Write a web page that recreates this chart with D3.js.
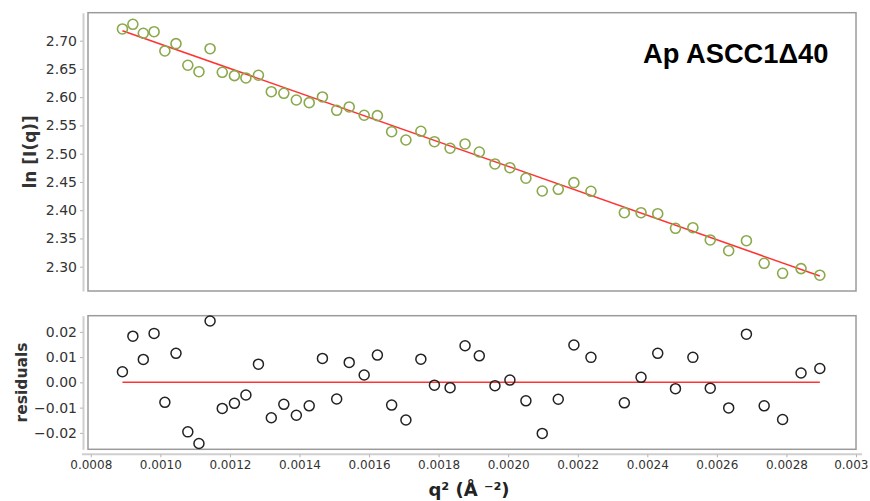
<!DOCTYPE html>
<html>
<head>
<meta charset="utf-8">
<script src="https://cdn.jsdelivr.net/npm/d3@7"></script>
<style>
  body { margin: 0; background: #fff; }
  svg { display: block; }
</style>
</head>
<body>
<div id="chart"></div>
<script>
// q^2 values (A^-2)
const q2 = [0.000891, 0.000921, 0.000951, 0.000982, 0.001013, 0.001045, 0.001079, 0.001111,
    0.001143, 0.001178, 0.001213, 0.001246, 0.001282, 0.001319, 0.001355, 0.001391,
    0.001428, 0.001466, 0.001507, 0.001543, 0.001586, 0.001624, 0.001665, 0.001706,
    0.001749, 0.001788, 0.001833, 0.001876, 0.001917, 0.001962, 0.002005, 0.002051,
    0.002098, 0.002144, 0.002189, 0.002238, 0.002334, 0.002382, 0.002430, 0.002481,
    0.002531, 0.002581, 0.002634, 0.002685, 0.002736, 0.002789, 0.002842, 0.002896];

// ln I(q), top panel
const lnI = [2.7207, 2.7290, 2.7131, 2.7159, 2.6818, 2.6947, 2.6565, 2.6451,
    2.6858, 2.6440, 2.6381, 2.6340, 2.6388, 2.6097, 2.6069, 2.5950,
    2.5903, 2.6004, 2.5768, 2.5827, 2.5680, 2.5673, 2.5389, 2.5242,
    2.5396, 2.5212, 2.5096, 2.5172, 2.5030, 2.4818, 2.4752, 2.4565,
    2.4340, 2.4370, 2.4487, 2.4334, 2.3956, 2.3956, 2.3938, 2.3680,
    2.3690, 2.3473, 2.3283, 2.3460, 2.3060, 2.2883, 2.2966, 2.2850];

// residuals, bottom panel
const resid = [0.0042, 0.0183, 0.0091, 0.0194, -0.0079, 0.0115, -0.0196, -0.0242,
    0.0243, -0.0103, -0.0083, -0.0050, 0.0072, -0.0140, -0.0087, -0.0130,
    -0.0093, 0.0095, -0.0066, 0.0079, 0.0029, 0.0108, -0.0090, -0.0149,
    0.0092, -0.0011, -0.0021, 0.0145, 0.0105, -0.0013, 0.0009, -0.0073,
    -0.0202, -0.0067, 0.0148, 0.0099, -0.0081, 0.0020, 0.0115, -0.0025,
    0.0099, -0.0023, -0.0101, 0.0191, -0.0093, -0.0147, 0.0037, 0.0055];

// Guinier fit line end points
const fitQ2 = [0.000891, 0.002896];
const fitLnI = [2.7177, 2.2835];
const zeroLine = [0, 0];

const xTicks = [0.0008, 0.0010, 0.0012, 0.0014, 0.0016, 0.0018, 0.0020, 0.0022, 0.0024, 0.0026, 0.0028, 0.0030];
const xTickLabels = ["0.0008", "0.0010", "0.0012", "0.0014", "0.0016", "0.0018", "0.0020",
    "0.0022", "0.0024", "0.0026", "0.0028", "0.003"];
const topTicks = [2.30, 2.35, 2.40, 2.45, 2.50, 2.55, 2.60, 2.65, 2.70];
const botTicks = [-0.02, -0.01, 0.00, 0.01, 0.02];

const width = 870, height = 501;
const plotLeft = 88, plotRight = 856, axisX = 83;
const top1 = 12.7, bot1 = 291;
const top2 = 315.7, bot2 = 449.3;
const xAxisY = 454.3;

const svg = d3.select("#chart").append("svg")
    .attr("width", width)
    .attr("height", height);

const x = d3.scaleLinear().domain([0.000792, 0.003]).range([plotLeft, plotRight]);
const yTop = d3.scaleLinear().domain([2.257, 2.7495]).range([bot1, top1]);
const yBot = d3.scaleLinear().domain([-0.0265, 0.0264]).range([bot2, top2]);

const tickFont = "'DejaVu Sans', sans-serif";

function drawYAxis(scale, ticks, fmt) {
    let g = svg.append("g")
        .attr("transform", `translate(${axisX},0)`)
        .call(d3.axisLeft(scale).tickValues(ticks).tickFormat(fmt).tickSize(3).tickSizeOuter(0).tickPadding(3));
    g.select(".domain").attr("stroke", "#cfcfcf").attr("stroke-width", 2);
    g.selectAll(".tick line").attr("stroke", "#b5b5b5");
    g.selectAll(".tick text")
        .attr("fill", "#333")
        .style("font-family", tickFont)
        .style("font-size", "14px");
}

function drawBox(y0, y1) {
    svg.append("rect")
        .attr("x", plotLeft)
        .attr("y", y0)
        .attr("width", plotRight - plotLeft)
        .attr("height", y1 - y0)
        .attr("fill", "none")
        .attr("stroke", "#9b9b9b")
        .attr("stroke-width", 1.5);
}

// top panel
drawYAxis(yTop, topTicks, d3.format(".2f"));
drawBox(top1, bot1);

let fitLine = d3.line()
    .x(function(d, i) { return x(fitQ2[i]); })
    .y(function(d) { return yTop(d); });

svg.append("path")
    .attr("d", fitLine(fitLnI))
    .attr("fill", "none")
    .attr("stroke", "#ff3333")
    .attr("stroke-width", 1.5);

svg.append("g").selectAll("circle")
    .data(lnI)
    .join("circle")
    .attr("cx", function(d, i) { return x(q2[i]); })
    .attr("cy", function(d) { return yTop(d); })
    .attr("r", 5)
    .attr("fill", "none")
    .attr("stroke", "#89a94b")
    .attr("stroke-width", 1.6);

svg.append("text")
    .attr("x", 643)
    .attr("y", 63)
    .style("font-family", "'Liberation Sans', Arial, sans-serif")
    .style("font-weight", "bold")
    .style("font-size", "27.3px")
    .attr("fill", "#000")
    .text("Ap ASCC1Δ40");

// bottom panel
drawYAxis(yBot, botTicks, d3.format(".2f"));
drawBox(top2, bot2);

let zeroPath = d3.line()
    .x(function(d, i) { return x(fitQ2[i]); })
    .y(function(d) { return yBot(d); });

svg.append("path")
    .attr("d", zeroPath(zeroLine))
    .attr("fill", "none")
    .attr("stroke", "#ff3333")
    .attr("stroke-width", 1.5);

svg.append("g").selectAll("circle")
    .data(resid)
    .join("circle")
    .attr("cx", function(d, i) { return x(q2[i]); })
    .attr("cy", function(d) { return yBot(d); })
    .attr("r", 5)
    .attr("fill", "none")
    .attr("stroke", "#222")
    .attr("stroke-width", 1.5);

// x axis
let xg = svg.append("g")
    .attr("transform", `translate(0,${xAxisY})`)
    .call(d3.axisBottom(x).tickValues(xTicks)
        .tickFormat(function(d, i) { return xTickLabels[i]; })
        .tickSize(3).tickSizeOuter(0).tickPadding(3));
xg.select(".domain").remove();
xg.insert("line", ":first-child")
    .attr("x1", 82).attr("x2", 862)
    .attr("stroke", "#cfcfcf").attr("stroke-width", 2);
xg.selectAll(".tick line").attr("stroke", "#b5b5b5");
xg.selectAll(".tick text")
    .attr("fill", "#333")
    .style("font-family", tickFont)
    .style("font-size", "12px");
// last label is pulled in so it stays inside the page
xg.selectAll(".tick text")
    .filter(function(d, i, nodes) { return i === nodes.length - 1; })
    .attr("text-anchor", "end")
    .attr("x", 12);

// axis titles
svg.append("text")
    .attr("transform", `translate(36,${(top1 + bot1) / 2}) rotate(-90)`)
    .attr("text-anchor", "middle")
    .style("font-family", tickFont)
    .style("font-weight", "bold")
    .style("font-size", "17px")
    .attr("fill", "#333")
    .text("ln [I(q)]");

svg.append("text")
    .attr("transform", `translate(27,${(top2 + bot2) / 2}) rotate(-90)`)
    .attr("text-anchor", "middle")
    .style("font-family", tickFont)
    .style("font-weight", "bold")
    .style("font-size", "15.5px")
    .attr("fill", "#333")
    .text("residuals");

svg.append("text")
    .attr("x", 469)
    .attr("y", 496)
    .attr("text-anchor", "middle")
    .style("font-family", tickFont)
    .style("font-weight", "bold")
    .style("font-size", "18px")
    .attr("fill", "#222")
    .text("q² (Å ⁻²)");
</script>
</body>
</html>
